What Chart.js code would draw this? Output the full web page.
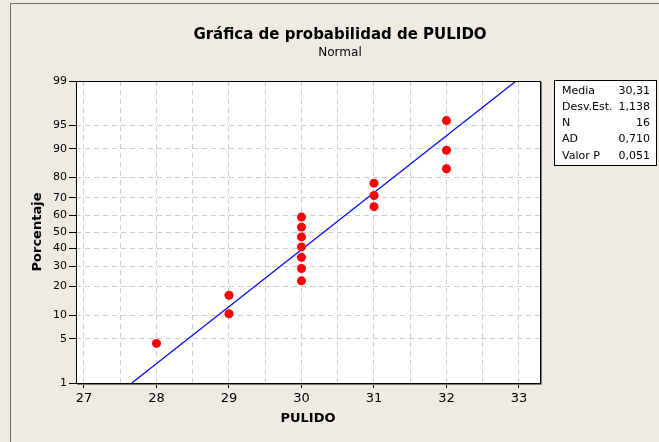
<!DOCTYPE html>
<html>
<head>
<meta charset="utf-8">
<script src="https://cdn.jsdelivr.net/npm/chart.js@4.4.0/dist/chart.umd.min.js"></script>
<style>
body{margin:0;background:#eeebe2;}
#wrap{width:659px;height:442px;}
</style>
</head>
<body>
<div id="wrap"><canvas id="grafica" width="659" height="442"></canvas></div>
<script>
// datos
var pulido = [28, 29, 29, 30, 30, 30, 30, 30, 30, 30, 31, 31, 31, 32, 32, 32];
var porcentaje = [4.3, 10.4, 16.5, 22.6, 28.7, 34.8, 40.9, 47.0, 53.0, 59.1, 65.2, 71.3, 77.4, 83.5, 89.6, 95.7];
// recta ajustada (extremos)
var ajusteX = [27.66, 32.96];
var ajusteP = [1, 99];
// ejes
var ticksX = [27, 27.5, 28, 28.5, 29, 29.5, 30, 30.5, 31, 31.5, 32, 32.5, 33];
var ticksP = [1, 5, 10, 20, 30, 40, 50, 60, 70, 80, 90, 95, 99];
// cuadro de estadisticos
var statNombres = ['Media', 'Desv.Est.', 'N', 'AD', 'Valor P'];
var statValores = ['30,31', '1,138', '16', '0,710', '0,051'];

var fuente = "Tahoma, 'DejaVu Sans', Verdana, sans-serif";
Chart.defaults.font.family = fuente;
Chart.defaults.color = '#000';

// escala de probabilidad normal (inversa de la normal, Acklam)
function probit(p) {
  var a = [-39.69683028665376, 220.9460984245205, -275.9285104469687, 138.3577518672690, -30.66479806614716, 2.506628277459239];
  var b = [-54.47609879822406, 161.5858368580409, -155.6989798598866, 66.80131188771972, -13.28068155288572];
  var c = [-0.007784894002430293, -0.3223964580411365, -2.400758277161838, -2.549732539343734, 4.374664141464968, 2.938163982698783];
  var d = [0.007784695709041462, 0.3224671290700398, 2.445134137142996, 3.754408661907416];
  var pl = 0.02425, q, r;
  if (p < pl) {
    q = Math.sqrt(-2 * Math.log(p));
    return (((((c[0]*q+c[1])*q+c[2])*q+c[3])*q+c[4])*q+c[5]) / ((((d[0]*q+d[1])*q+d[2])*q+d[3])*q+1);
  }
  if (p > 1 - pl) {
    q = Math.sqrt(-2 * Math.log(1 - p));
    return -(((((c[0]*q+c[1])*q+c[2])*q+c[3])*q+c[4])*q+c[5]) / ((((d[0]*q+d[1])*q+d[2])*q+d[3])*q+1);
  }
  q = p - 0.5; r = q * q;
  return (((((a[0]*r+a[1])*r+a[2])*r+a[3])*r+a[4])*r+a[5])*q / (((((b[0]*r+b[1])*r+b[2])*r+b[3])*r+b[4])*r+1);
}

var zMin = probit(ticksP[0] / 100);
var zMax = probit(ticksP[ticksP.length - 1] / 100);

var puntos = pulido.map(function (x, i) { return {x: x, y: probit(porcentaje[i] / 100)}; });
var recta = ajusteX.map(function (x, i) { return {x: x, y: probit(ajusteP[i] / 100)}; });

function etiquetaP(v) {
  for (var i = 0; i < ticksP.length; i++) {
    if (Math.abs(probit(ticksP[i] / 100) - v) < 1e-6) return String(ticksP[i]);
  }
  return '';
}

var marco = {
  id: 'marco',
  beforeDraw: function (chart) {
    var ctx = chart.ctx, a = chart.chartArea;
    ctx.save();
    ctx.fillStyle = '#eeebe2';
    ctx.fillRect(0, 0, chart.width, chart.height);
    ctx.strokeStyle = '#6e6e6e';
    ctx.lineWidth = 1;
    ctx.strokeRect(10.5, 3.5, 800, 600);
    ctx.fillStyle = '#fff';
    ctx.fillRect(a.left, a.top, a.right - a.left, a.bottom - a.top);
    ctx.restore();
  },
  afterDraw: function (chart) {
    var ctx = chart.ctx, a = chart.chartArea;
    ctx.save();
    ctx.strokeStyle = '#7a7a7a';
    ctx.lineWidth = 1;
    ctx.beginPath();
    ctx.moveTo(Math.round(a.right) + 1.5, a.top + 1);
    ctx.lineTo(Math.round(a.right) + 1.5, Math.round(a.bottom) + 1.5);
    ctx.lineTo(a.left + 1, Math.round(a.bottom) + 1.5);
    ctx.stroke();
    ctx.strokeStyle = '#000';
    ctx.strokeRect(Math.round(a.left) + 0.5, Math.round(a.top) + 0.5, Math.round(a.right - a.left), Math.round(a.bottom - a.top));

    // cuadro de estadisticos
    ctx.fillStyle = '#fff';
    ctx.fillRect(554, 80, 102, 85);
    ctx.strokeStyle = '#000';
    ctx.strokeRect(554.5, 80.5, 102, 85);
    ctx.fillStyle = '#000';
    ctx.font = '11px ' + fuente;
    ctx.textBaseline = 'middle';
    for (var i = 0; i < statNombres.length; i++) {
      var y = 91 + i * 16.2;
      ctx.textAlign = 'left';
      ctx.fillText(statNombres[i], 562, y);
      ctx.textAlign = 'right';
      ctx.fillText(statValores[i], 650, y);
    }
    ctx.restore();
  }
};

new Chart(document.getElementById('grafica'), {
  type: 'scatter',
  data: {
    datasets: [
      {
        type: 'line',
        label: 'Ajuste',
        data: recta,
        borderColor: '#0000ff',
        borderWidth: 1.2,
        pointRadius: 0,
        fill: false,
        order: 2
      },
      {
        label: 'PULIDO',
        data: puntos,
        backgroundColor: '#ff0000',
        borderColor: '#ff0000',
        borderWidth: 0,
        pointRadius: 4.5,
        order: 1
      }
    ]
  },
  options: {
    responsive: false,
    animation: false,
    layout: {padding: {left: 21, top: 0, right: 0, bottom: 0}},
    plugins: {
      legend: {display: false},
      tooltip: {enabled: false},
      title: {
        display: true,
        text: 'Gráfica de probabilidad de PULIDO',
        font: {size: 15, weight: 'bold'},
        color: '#000',
        padding: {top: 26, bottom: 0}
      },
      subtitle: {
        display: true,
        text: 'Normal',
        font: {size: 12},
        color: '#000',
        padding: {top: 2, bottom: 20.6}
      }
    },
    scales: {
      x: {
        type: 'linear',
        min: 26.89,
        max: 33.29,
        afterBuildTicks: function (s) { s.ticks = ticksX.map(function (v) { return {value: v}; }); },
        afterFit: function (s) { s.height = 59; },
        ticks: {
          font: {size: 13},
          padding: 3,
          maxRotation: 0,
          autoSkip: false,
          callback: function (v) { return Number.isInteger(v) ? String(v) : ''; }
        },
        grid: {
          color: '#cccccc',
          tickLength: 5,
          tickColor: function (c) { return Number.isInteger(c.tick.value) ? '#000' : 'rgba(0,0,0,0)'; }
        },
        border: {display: false, dash: [5, 4]},
        title: {
          display: true,
          text: 'PULIDO',
          font: {size: 13, weight: 'bold'},
          padding: {top: 0, bottom: 16}
        }
      },
      y: {
        type: 'linear',
        min: zMin,
        max: zMax,
        afterBuildTicks: function (s) { s.ticks = ticksP.map(function (p) { return {value: probit(p / 100)}; }); },
        afterFit: function (s) { s.width = 55; },
        ticks: {
          font: {size: 11},
          padding: 2,
          autoSkip: false,
          callback: function (v) { return etiquetaP(v); }
        },
        grid: {
          color: function (c) {
            var v = c.tick ? c.tick.value : 0;
            return (Math.abs(v - zMin) < 1e-6 || Math.abs(v - zMax) < 1e-6) ? 'rgba(0,0,0,0)' : '#cccccc';
          },
          tickLength: 7,
          tickColor: '#000'
        },
        border: {display: false, dash: [5, 4]},
        title: {
          display: true,
          text: 'Porcentaje',
          font: {size: 13, weight: 'bold'},
          padding: {top: 9, bottom: 0}
        }
      },
      yDer: {
        type: 'linear',
        position: 'right',
        display: true,
        afterFit: function (s) { s.width = 119; },
        ticks: {display: false},
        grid: {display: false},
        border: {display: false}
      }
    }
  },
  plugins: [marco]
});
</script>
</body>
</html>
